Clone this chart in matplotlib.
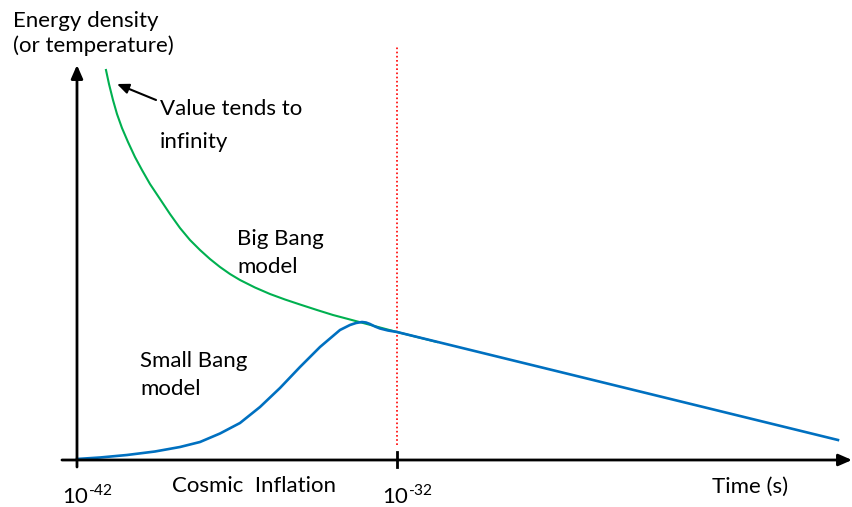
import matplotlib.pyplot as plt

# x = log10(time / s), y = energy density (arbitrary units)
big_bang_x = [-41.094, -41.0, -40.875, -40.75, -40.594, -40.406, -40.188, -39.969,
              -39.719, -39.406, -39.094, -38.781, -38.469, -38.156, -37.844, -37.531,
              -37.219, -36.906, -36.438, -35.969, -35.5, -35.031, -34.5, -34.0,
              -33.469, -33.0, -32.531, -32.0, -31.375, -30.75]
big_bang_y = [39.0, 37.6, 36.0, 34.6, 33.2, 31.8, 30.3, 29.0,
              27.6, 26.1, 24.6, 23.2, 22.0, 21.0, 20.1, 19.3,
              18.6, 18.0, 17.25, 16.6, 16.05, 15.55, 15.0, 14.5,
              14.05, 13.65, 13.25, 12.8, 12.3, 11.8]

small_bang_x = [-42.0, -41.281, -40.438, -39.563, -38.781, -38.156, -37.531, -36.906,
                -36.281, -35.656, -35.031, -34.406, -33.781, -33.625, -33.469, -33.281,
                -33.094, -32.969, -32.844, -32.688, -32.531, -32.281, -32.0, -18.219]
small_bang_y = [0.1, 0.25, 0.5, 0.85, 1.3, 1.8, 2.65, 3.7,
                5.3, 7.2, 9.3, 11.3, 13.0, 13.25, 13.5, 13.7,
                13.8, 13.75, 13.6, 13.35, 13.15, 12.95, 12.8, 2.0]

tick_pos = [-42, -32]
tick_labels = [r'$10^{\text{-42}}$', r'$10^{\text{-32}}$']

plt.rcParams['font.family'] = ['Lato', 'DejaVu Sans']
plt.rcParams['mathtext.fontset'] = 'custom'
plt.rcParams['mathtext.rm'] = 'Lato'

fig = plt.figure(figsize=(8.52, 5.07), dpi=100)
ax = fig.add_axes([0, 0, 1, 1])
ax.set_xlim(-44.406, -17.78)
ax.set_ylim(-4.7, 46.0)
ax.axis('off')

head = '-|>,head_length=0.8,head_width=0.35'
# axes with arrow heads
ax.annotate('', xy=(-17.78, 0), xytext=(-42.47, 0),
            arrowprops=dict(arrowstyle=head, color='black', lw=2, shrinkA=0, shrinkB=0))
ax.annotate('', xy=(-42, 39.5), xytext=(-42, -0.7),
            arrowprops=dict(arrowstyle=head, color='black', lw=2, shrinkA=0, shrinkB=0))
ax.plot([-32, -32], [-0.7, 0.8], color='black', lw=2)

# red dotted line at 1e-32 s
ax.plot([-32, -32], [1.5, 41.5], color='red', lw=1.2, linestyle=(0, (1, 1.5)))

ax.plot(big_bang_x, big_bang_y, color='#00b050', lw=1.5)
ax.plot(small_bang_x, small_bang_y, color='#0070c0', lw=1.9)

fs = 16
for p, lab in zip(tick_pos, tick_labels):
    ax.text(p - 0.47, -4.3, lab, ha='left', va='baseline', fontsize=fs)

ax.text(-44.0, 43.3, 'Energy density', ha='left', va='baseline', fontsize=fs)
ax.text(-44.0, 40.8, '(or temperature)', ha='left', va='baseline', fontsize=fs)

ax.text(-39.406, 34.5, 'Value tends to', ha='left', va='baseline', fontsize=fs)
ax.text(-39.406, 31.2, 'infinity', ha='left', va='baseline', fontsize=fs)
ax.annotate('', xy=(-40.75, 37.6), xytext=(-39.53, 36.0),
            arrowprops=dict(arrowstyle='-|>,head_length=0.7,head_width=0.3',
                            color='black', lw=1.5, shrinkA=0, shrinkB=0))

ax.text(-37.0, 21.5, 'Big Bang', ha='left', va='baseline', fontsize=fs)
ax.text(-37.0, 18.7, 'model', ha='left', va='baseline', fontsize=fs)
ax.text(-40.03, 9.3, 'Small Bang', ha='left', va='baseline', fontsize=fs)
ax.text(-40.03, 6.5, 'model', ha='left', va='baseline', fontsize=fs)
ax.text(-39.03, -3.2, 'Cosmic  Inflation', ha='left', va='baseline', fontsize=fs)
ax.text(-22.16, -3.3, 'Time (s)', ha='left', va='baseline', fontsize=fs)

fig.savefig('out.png', dpi=100)
